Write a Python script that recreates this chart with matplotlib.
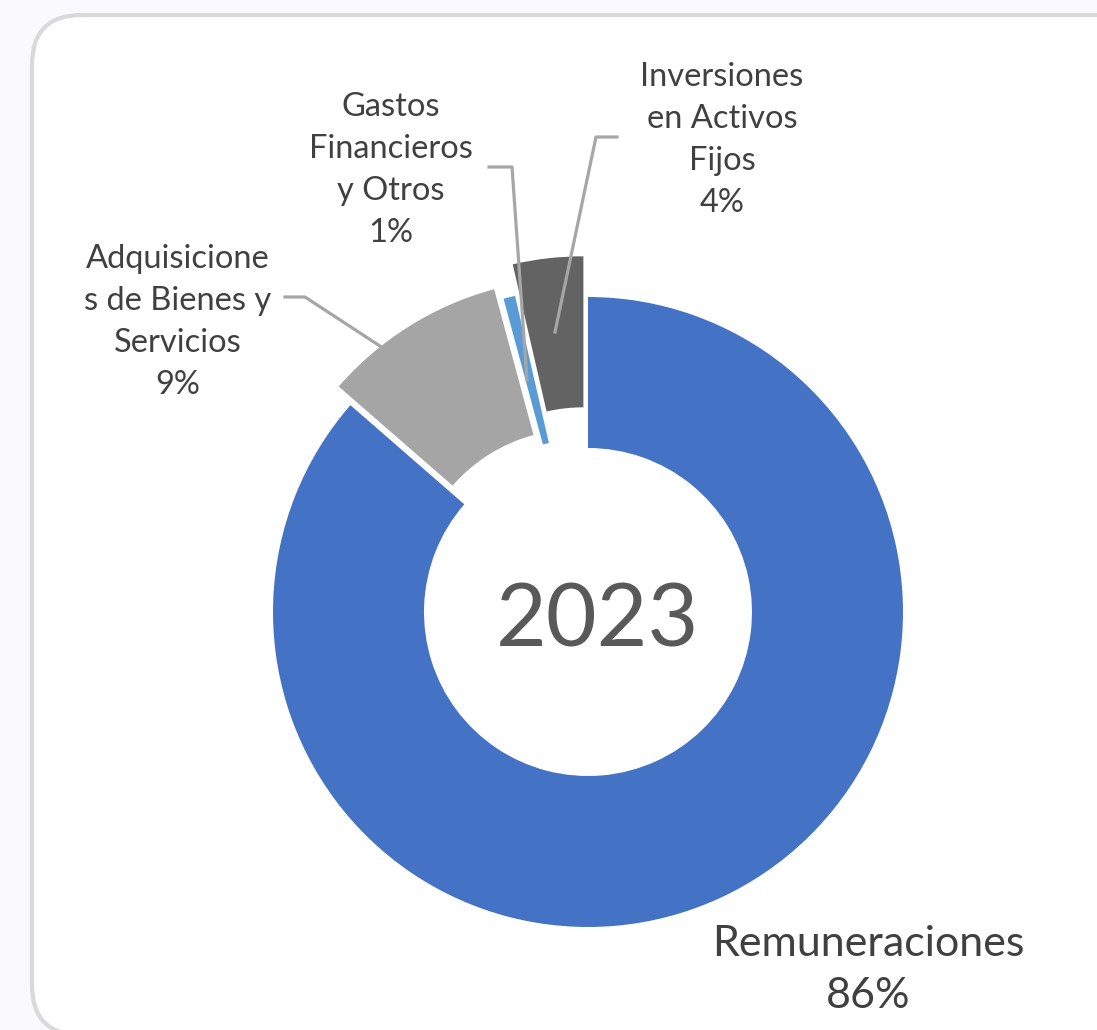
import matplotlib.pyplot as plt
from matplotlib.patches import FancyBboxPatch

# data
categories = ["Remuneraciones", "Adquisicione\ns de Bienes y\nServicios",
              "Gastos\nFinancieros\ny Otros", "Inversiones\nen Activos\nFijos"]
shares = [86.4, 9.4, 0.6, 3.6]
colors = ["#4472C4", "#A5A5A5", "#5B9BD5", "#636363"]
explode = [0.0, 0.07, 0.03, 0.13]
year = "2023"

W, H = 1097, 1030
fig = plt.figure(figsize=(W / 100, H / 100), dpi=100, facecolor="#F9F9FE")
ax = fig.add_axes([0, 0, 1, 1])


def Y(y):
    # image row -> data y
    return H - y


# rounded card behind the chart
card = FancyBboxPatch((32, Y(1035)), 1120, 1020,
                      boxstyle="round,pad=0,rounding_size=50",
                      facecolor="white", edgecolor="#D9D9D9", lw=3, zorder=0)
ax.add_patch(card)

cx, cy, r = 588, Y(612), 315
# pie explode is in data units, so scale by radius
ax.pie(shares, colors=colors, explode=[e * r for e in explode], startangle=90,
       counterclock=False, center=(cx, cy), radius=r, frame=True,
       wedgeprops=dict(width=151, linewidth=0))
ax.set_xlim(0, W)
ax.set_ylim(0, H)
ax.set_aspect("equal")
ax.axis("off")

ax.text(598, Y(622), year, ha="center", va="center", fontsize=63,
        color="#595959", family="Lato")

# leader lines
lc = "#A6A6A6"
ax.plot([285, 305, 383], [Y(297), Y(297), Y(348)], color=lc, lw=2.3)
ax.plot([489, 512, 527], [Y(167), Y(167), Y(380)], color=lc, lw=2.3)
ax.plot([617, 596, 555], [Y(137), Y(137), Y(332)], color=lc, lw=2.3)

label_pos = [(868, 970), (178, 322), (391, 170), (722, 140)]
sizes = [31, 23.5, 23.5, 23.5]
spacing = [1.45, 1.5, 1.5, 1.5]
for name, v, (lx, ly), fs, ls in zip(categories, shares, label_pos, sizes, spacing):
    ax.text(lx, Y(ly), f"{name}\n{round(v)}%", ha="center", va="center",
            multialignment="center", fontsize=fs, color="#404040",
            family="Lato", linespacing=ls)

fig.savefig("out.png", dpi=100, facecolor=fig.get_facecolor())
